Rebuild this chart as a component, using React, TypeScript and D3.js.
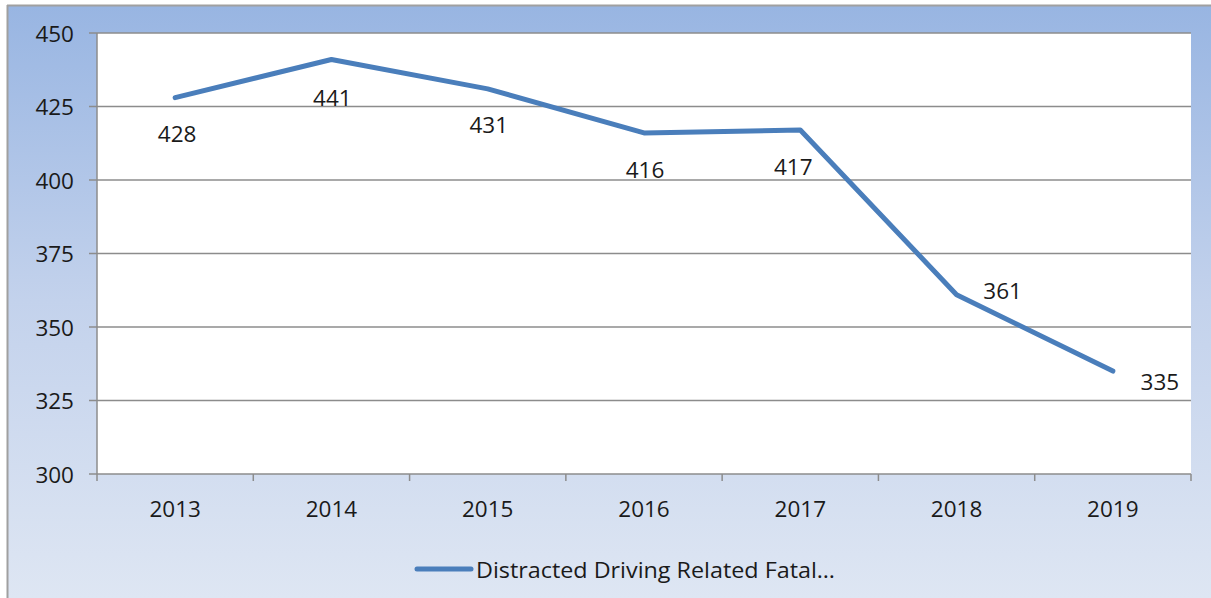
import React from "react";
import * as d3 from "d3";

const years = ["2013", "2014", "2015", "2016", "2017", "2018", "2019"];
const fatalities = [428, 441, 431, 416, 417, 361, 335];
const yTicks = [300, 325, 350, 375, 400, 425, 450];
const seriesName = "Distracted Driving Related Fatal…";
// label placement offsets (center of text relative to point)
const labelDx = [2, 1, 1, 1, -7, 46, 47];
const labelDy = [36, 38, 36, 37, 36, -4, 10];

const W = 1211;
const H = 598;
const left = 97;
const right = 1191;
const top = 33;
const bottom = 474;
const FONT = "'Open Sans', 'Noto Sans', sans-serif";
const FS = 22.5;

export default function App() {
  const x = d3.scaleBand<string>().domain(years).range([left, right]).padding(0);
  const y = d3.scaleLinear().domain([300, 450]).range([bottom, top]);
  const cx = (d: string) => (x(d) as number) + x.bandwidth() / 2;
  const line = d3
    .line<number>()
    .x((_, i) => cx(years[i]))
    .y((v) => y(v));
  const boundaries = years.map((d) => x(d) as number).concat([right]);

  return (
    <svg
      width={W}
      height={H}
      style={{ position: "absolute", left: 0, top: 0 }}
      fontFamily={FONT}
    >
      <defs>
        <linearGradient id="bg" x1="0" y1="0" x2="0" y2="1">
          <stop offset="0" stopColor="#98b5e2" />
          <stop offset="0.5" stopColor="#c3d2ec" />
          <stop offset="1" stopColor="#dee6f3" />
        </linearGradient>
      </defs>
      <rect x={0} y={0} width={W} height={H} fill="#ffffff" />
      <rect x={7} y={5} width={W - 7} height={H - 5} fill="url(#bg)" />
      <line x1={7} y1={5.5} x2={W} y2={5.5} stroke="#a0a0a0" strokeWidth={2} />
      <line x1={7.5} y1={5} x2={7.5} y2={H} stroke="#a0a0a0" strokeWidth={2} />
      <rect x={left} y={top} width={right - left} height={bottom - top} fill="#ffffff" />
      {yTicks.map((t) => (
        <g key={t}>
          <line x1={left - 8} x2={right} y1={y(t)} y2={y(t)} stroke="#8c8c8c" strokeWidth={1.5} />
          <text
            x={74}
            y={y(t)}
            textAnchor="end"
            dominantBaseline="central"
            fontSize={FS}
            fill="#1a1a1a"
          >
            {t}
          </text>
        </g>
      ))}
      <line x1={left} x2={left} y1={top} y2={bottom} stroke="#8c8c8c" strokeWidth={1.5} />
      {boundaries.map((b, i) => (
        <line key={i} x1={b} x2={b} y1={bottom} y2={bottom + 7} stroke="#8c8c8c" strokeWidth={1.5} />
      ))}
      {years.map((d) => (
        <text
          key={d}
          x={cx(d)}
          y={508}
          textAnchor="middle"
          dominantBaseline="central"
          fontSize={FS}
          fill="#1a1a1a"
        >
          {d}
        </text>
      ))}
      <path
        d={line(fatalities) || ""}
        fill="none"
        stroke="#4a7ebb"
        strokeWidth={5}
        strokeLinecap="round"
        strokeLinejoin="round"
      />
      {fatalities.map((v, i) => (
        <text
          key={i}
          x={cx(years[i]) + labelDx[i]}
          y={y(v) + labelDy[i]}
          textAnchor="middle"
          dominantBaseline="central"
          fontSize={FS}
          fill="#1a1a1a"
        >
          {v}
        </text>
      ))}
      <line x1={417} x2={471} y1={569} y2={569} stroke="#4a7ebb" strokeWidth={5} strokeLinecap="round" />
      <text x={476} y={569} dominantBaseline="central" fontSize={FS} fill="#1a1a1a" textLength={359} lengthAdjust="spacingAndGlyphs">
        {seriesName}
      </text>
    </svg>
  );
}
